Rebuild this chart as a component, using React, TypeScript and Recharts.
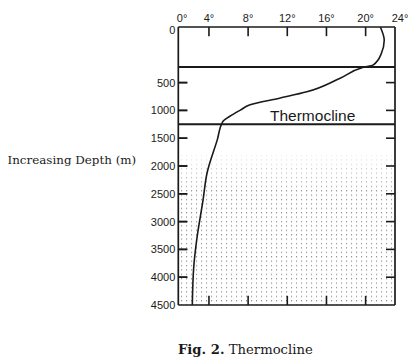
import React from 'react';
import {
  LineChart,
  Line,
  XAxis,
  YAxis,
  ReferenceLine,
  ReferenceArea,
} from 'recharts';

// depth (m) and temperature (deg C)
const depths = [0, 120, 240, 340, 365, 460, 665, 780, 900, 995, 1110, 1205, 1530, 2130, 2610, 3330, 3810, 4500];
const temps = [21.5, 21.9, 21.6, 20.8, 19.7, 17.4, 14.0, 11.2, 8.2, 7.2, 6.1, 5.4, 4.85, 3.8, 3.4, 2.75, 2.45, 2.3];

const depthTicks = [0, 500, 1000, 1500, 2000, 2500, 3000, 3500, 4000, 4500];
const tempTicks = [4, 8, 12, 16, 20];
const tempEdgeLabels = ['0°', '24°'];

const layerTops = [360, 1250];
const stippleFrom = 1700;

const X_MIN = 0.87;
const X_MAX = 23;
const Y_MAX = 10;

// the original figure stretches the 0-500 m band to twice the height of the others
const depthPos = (d: number) => (d <= 500 ? d / 250 : 1 + d / 500);

const data = depths.map((d, i) => ({ pos: depthPos(d), temp: temps[i] }));
const innerDepthTicks = depthTicks.slice(1, -1).map(depthPos);

const INK = '#1a1a1a';
const SANS = '"Liberation Sans", Arial, sans-serif';
const SERIF = '"DejaVu Serif", serif';
// inner tick length, in axis units (about 9px each way)
const TICK_T = 0.92;
const TICK_P = 0.33;

const TopTick = (props: any) => {
  const { x, y, payload } = props;
  const v = payload.value;
  let label = `${v}°`;
  let tx = x;
  let anchor: 'middle' | 'start' = 'middle';
  if (v === X_MIN) {
    label = tempEdgeLabels[0];
    tx = x - 1.5;
    anchor = 'start';
  } else if (v === X_MAX) {
    label = tempEdgeLabels[1];
    tx = x + 5;
  }
  return (
    <text x={tx} y={y} textAnchor={anchor} fontFamily={SANS} fontSize={11} fill={INK}>
      {label}
    </text>
  );
};

const LeftTick = (props: any) => {
  const { x, y, payload, index } = props;
  const v = payload.value;
  const axisX = x + 3;
  return (
    <g>
      {v > 0 && v < Y_MAX && (
        <line x1={axisX} x2={axisX + 9} y1={y} y2={y} stroke={INK} strokeWidth={1.6} />
      )}
      <text
        x={x}
        y={v === 0 ? y + 3 : y}
        textAnchor="end"
        dominantBaseline="central"
        fontFamily={SANS}
        fontSize={11}
        fill={INK}
      >
        {depthTicks[index]}
      </text>
    </g>
  );
};

const ThermoLabel = (props: any) => {
  const { x, y, width } = props.viewBox;
  return (
    <text x={x + width * 0.62} y={y - 3.3} textAnchor="middle" fontFamily={SANS} fontSize={15.5} fill={INK}>
      Thermocline
    </text>
  );
};

const StippleShape = (props: any) => {
  const { x, y, width, height } = props;
  return <rect x={x} y={y} width={width} height={height} fill="url(#dots)" mask="url(#fade)" />;
};

const tickProps = { xAxisId: 'top', yAxisId: 'left', stroke: INK, strokeWidth: 1.6, ifOverflow: 'visible' as const };

export default function App() {
  return (
    <div style={{ position: 'absolute', left: 0, top: 0, width: 412, height: 360, background: '#fff' }}>
      <LineChart
        width={412}
        height={360}
        data={data}
        layout="vertical"
        margin={{ top: 0, right: 17, bottom: 55, left: 138.3 }}
      >
        <defs>
          <pattern id="dots" patternUnits="userSpaceOnUse" width={5} height={4.4}>
            <rect x={1} y={1} width={1.1} height={1.1} fill="#808080" />
          </pattern>
          <linearGradient id="fadeGrad" x1="0" y1="0" x2="0" y2="1">
            <stop offset="0" stopColor="#000" />
            <stop offset="0.28" stopColor="#fff" />
            <stop offset="1" stopColor="#fff" />
          </linearGradient>
          <mask id="fade" maskContentUnits="objectBoundingBox">
            <rect x={0} y={0} width={1} height={1} fill="url(#fadeGrad)" />
          </mask>
        </defs>
        <ReferenceArea
          xAxisId="top"
          yAxisId="left"
          y1={depthPos(stippleFrom)}
          y2={Y_MAX}
          shape={<StippleShape />}
          ifOverflow="visible"
        />
        <XAxis
          xAxisId="top"
          orientation="top"
          type="number"
          dataKey="temp"
          domain={[X_MIN, X_MAX]}
          allowDataOverflow
          ticks={[X_MIN, ...tempTicks, X_MAX]}
          height={27}
          tickSize={0}
          tickMargin={4.7}
          tick={<TopTick />}
          tickLine={false}
          axisLine={{ stroke: INK, strokeWidth: 1.7 }}
        />
        <YAxis
          yAxisId="left"
          orientation="left"
          type="number"
          dataKey="pos"
          domain={[0, Y_MAX]}
          allowDataOverflow
          ticks={depthTicks.map(depthPos)}
          width={40}
          tickSize={0}
          tickMargin={3}
          tick={<LeftTick />}
          tickLine={false}
          axisLine={{ stroke: INK, strokeWidth: 1.7 }}
        />
        {/* bottom and right edges of the frame */}
        <ReferenceLine xAxisId="top" yAxisId="left" y={Y_MAX} stroke={INK} strokeWidth={1.7} ifOverflow="visible" />
        <ReferenceLine xAxisId="top" yAxisId="left" x={X_MAX} stroke={INK} strokeWidth={1.7} ifOverflow="visible" />
        {/* inward tick marks */}
        {tempTicks.map((t) => (
          <ReferenceLine key={`tt${t}`} {...tickProps} segment={[{ x: t, y: 0 }, { x: t, y: TICK_P }]} />
        ))}
        {tempTicks.map((t) => (
          <ReferenceLine key={`bt${t}`} {...tickProps} segment={[{ x: t, y: Y_MAX - TICK_P }, { x: t, y: Y_MAX }]} />
        ))}
        {innerDepthTicks.map((p) => (
          <ReferenceLine key={`lt${p}`} {...tickProps} segment={[{ x: X_MIN + TICK_T, y: p }, { x: X_MIN + 0.01, y: p }]} />
        ))}
        {innerDepthTicks.map((p) => (
          <ReferenceLine key={`rt${p}`} {...tickProps} segment={[{ x: X_MAX - TICK_T, y: p }, { x: X_MAX, y: p }]} />
        ))}
        <ReferenceLine
          xAxisId="top"
          yAxisId="left"
          y={depthPos(layerTops[0])}
          stroke={INK}
          strokeWidth={2}
        />
        <ReferenceLine
          xAxisId="top"
          yAxisId="left"
          y={depthPos(layerTops[1])}
          stroke={INK}
          strokeWidth={2}
          label={<ThermoLabel />}
        />
        <Line
          xAxisId="top"
          yAxisId="left"
          dataKey="temp"
          type="monotoneY"
          stroke={INK}
          strokeWidth={1.6}
          dot={false}
          isAnimationActive={false}
        />
      </LineChart>
      <svg
        width={412}
        height={360}
        style={{ position: 'absolute', left: 0, top: 0, pointerEvents: 'none' }}
      >
        <text x={7.5} y={164} fontFamily={SERIF} fontSize={11.9} fill={INK}>
          Increasing Depth (m)
        </text>
        <text x={178} y={354} fontFamily={SERIF} fontSize={13.2} fill={INK}>
          <tspan fontWeight="bold">Fig. 2.</tspan> Thermocline
        </text>
      </svg>
    </div>
  );
}
